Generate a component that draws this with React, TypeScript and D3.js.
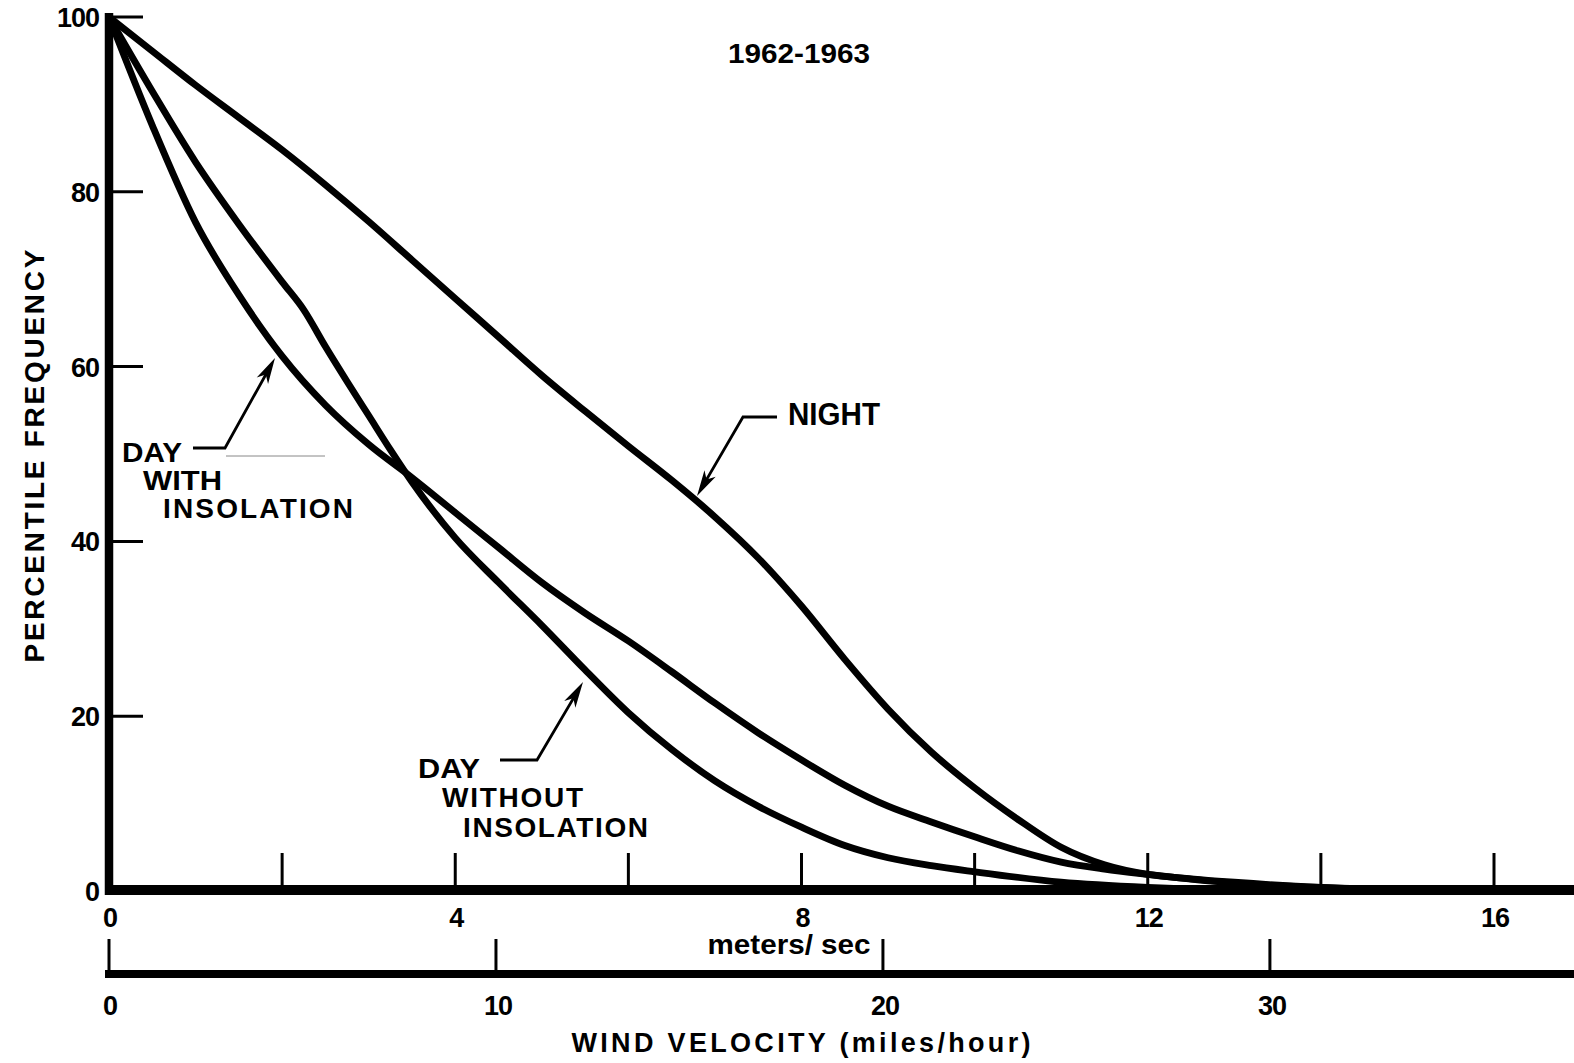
import React from "react";
import * as d3 from "d3";

// ---- data ----
const nightSpeed = [0, 0.5, 1, 1.5, 2, 2.5, 3, 3.5, 4, 4.5, 5, 5.5, 6, 6.5, 7, 7.5, 8, 8.5, 9, 9.5, 10, 10.5, 11, 11.5, 12, 12.5, 13, 14, 15, 16.9];
const nightFreq = [100, 96.1, 92.2, 88.5, 84.8, 80.8, 76.6, 72.2, 67.8, 63.4, 59.0, 54.9, 50.9, 47.0, 42.8, 38.1, 32.6, 26.5, 20.8, 15.9, 11.8, 8.2, 5.0, 3.0, 1.9, 1.4, 1.0, 0.4, 0.1, 0];

const withInsSpeed = [0, 0.5, 1, 1.5, 2, 2.5, 3, 3.5, 4, 4.5, 5, 5.5, 6, 6.5, 7, 7.5, 8, 8.5, 9, 9.5, 10, 10.5, 11, 11.5, 12, 13, 14, 15, 16.9];
const withInsFreq = [100, 87.6, 76.5, 68.2, 61.2, 55.6, 51.1, 47.3, 43.3, 39.3, 35.3, 31.8, 28.6, 25.1, 21.5, 18.1, 15.0, 12.1, 9.7, 7.9, 6.2, 4.6, 3.3, 2.5, 1.9, 0.9, 0.4, 0.15, 0];

const withoutInsSpeed = [0, 0.5, 1, 1.5, 2, 2.25, 2.5, 2.75, 3, 3.25, 3.5, 4, 4.5, 5, 5.5, 6, 6.5, 7, 7.5, 8, 8.5, 9, 9.5, 10, 11, 12, 13, 16.9];
const withoutInsFreq = [100, 91.5, 83.4, 76.3, 69.7, 66.5, 62.3, 58.3, 54.4, 50.5, 46.8, 40.4, 35.3, 30.4, 25.3, 20.4, 16.2, 12.6, 9.7, 7.3, 5.2, 3.8, 2.9, 2.2, 1.0, 0.4, 0.1, 0];

const yTicks = [0, 20, 40, 60, 80, 100];
const msTicks = [2, 4, 6, 8, 10, 12, 14, 16];
const msLabels = [0, 4, 8, 12, 16];
const mphTicks = [0, 10, 20, 30];

const title = "1962-1963";
const yTitle = "PERCENTILE FREQUENCY";
const msTitle = "meters/ sec";
const mphTitle = "WIND VELOCITY (miles/hour)";

const MPH_TO_MS = 0.44704;

const FONT = "'Liberation Sans', Arial, Helvetica, sans-serif";

function zip(a: number[], b: number[]): [number, number][] {
  return a.map((v, i) => [v, b[i]]);
}

function Arrow({ pts }: { pts: [number, number][] }) {
  const [bx, by] = pts[pts.length - 2];
  const [tx, ty] = pts[pts.length - 1];
  const dx = tx - bx, dy = ty - by;
  const len = Math.hypot(dx, dy);
  const ux = dx / len, uy = dy / len;
  const L = 26, Wd = 6.5;
  const baseX = tx - ux * L, baseY = ty - uy * L;
  const px = -uy, py = ux;
  const head = `${tx},${ty} ${baseX + px * Wd},${baseY + py * Wd} ${baseX + ux * 7},${baseY + uy * 7} ${baseX - px * Wd},${baseY - py * Wd}`;
  const linePts = pts.slice(0, -1).concat([[tx - ux * 12, ty - uy * 12]]);
  return (
    <g>
      <polyline points={linePts.map(p => p.join(",")).join(" ")} fill="none" stroke="#000" strokeWidth={2.8} />
      <polygon points={head} fill="#000" />
    </g>
  );
}

export default function App() {
  const W = 1574, H = 1063;
  const x = d3.scaleLinear().domain([0, 16]).range([109, 1494]);
  const y = d3.scaleLinear().domain([0, 100]).range([891, 17]);
  const xMph = d3.scaleLinear().domain([0, 16 / MPH_TO_MS]).range([109, 1494]);

  const line = d3
    .line<[number, number]>()
    .x(d => x(d[0]))
    .y(d => y(d[1]))
    .curve(d3.curveMonotoneX);

  const series = [
    zip(nightSpeed, nightFreq),
    zip(withInsSpeed, withInsFreq),
    zip(withoutInsSpeed, withoutInsFreq),
  ];

  const axisY = 890;
  const axis2Y = 974;

  return (
    <svg
      width={W}
      height={H}
      viewBox={`0 0 ${W} ${H}`}
      style={{ position: "absolute", left: 0, top: 0, background: "#fff" }}
      fontFamily={FONT}
    >
      <rect x={0} y={0} width={W} height={H} fill="#fff" />

      {/* curves */}
      {series.map((s, i) => (
        <path key={i} d={line(s) || ""} fill="none" stroke="#000" strokeWidth={6.8} strokeLinejoin="round" strokeLinecap="round" />
      ))}

      {/* y axis */}
      <line x1={109} x2={109} y1={13} y2={axisY + 5} stroke="#000" strokeWidth={8.5} />
      {yTicks.filter(t => t > 0).map(t => (
        <line key={t} x1={109} x2={143} y1={y(t)} y2={y(t)} stroke="#000" strokeWidth={3} />
      ))}
      {yTicks.map(t => (
        <text key={t} x={99} y={y(t) + 10} textAnchor="end" fontSize={27} fontWeight="bold" letterSpacing={-1}>
          {t}
        </text>
      ))}
      <text
        transform={`translate(44,456) rotate(-90)`}
        textAnchor="middle"
        fontSize={28}
        fontWeight="bold"
        textLength={413}
        lengthAdjust="spacing"
      >
        {yTitle}
      </text>

      {/* primary x axis (m/s) */}
      <line x1={105} x2={W} y1={axisY} y2={axisY} stroke="#000" strokeWidth={10} />
      {msTicks.map(t => (
        <line key={t} x1={x(t)} x2={x(t)} y1={axisY} y2={853} stroke="#000" strokeWidth={3} />
      ))}
      {msLabels.map(t => (
        <text key={t} x={x(t) + 1} y={927} textAnchor="middle" fontSize={27} fontWeight="bold" letterSpacing={-1}>
          {t}
        </text>
      ))}
      <text x={789} y={954} textAnchor="middle" fontSize={27} fontWeight="bold" textLength={163} lengthAdjust="spacingAndGlyphs">
        {msTitle}
      </text>

      {/* secondary x axis (mph) */}
      <line x1={105} x2={W} y1={axis2Y} y2={axis2Y} stroke="#000" strokeWidth={8} />
      {mphTicks.map(t => (
        <line key={t} x1={xMph(t)} x2={xMph(t)} y1={axis2Y} y2={939} stroke="#000" strokeWidth={3} />
      ))}
      {mphTicks.map(t => (
        <text key={t} x={xMph(t) + (t === 0 ? 1 : 2)} y={1015} textAnchor="middle" fontSize={27} fontWeight="bold" letterSpacing={-1}>
          {t}
        </text>
      ))}
      <text x={801} y={1052} textAnchor="middle" fontSize={27} fontWeight="bold" textLength={459} lengthAdjust="spacing">
        {mphTitle}
      </text>

      {/* title */}
      <text x={799} y={63} textAnchor="middle" fontSize={27} fontWeight="bold" textLength={142} lengthAdjust="spacingAndGlyphs">
        {title}
      </text>

      {/* NIGHT label */}
      <text x={788} y={425} fontSize={31} fontWeight="bold" textLength={92} lengthAdjust="spacingAndGlyphs">
        NIGHT
      </text>
      <Arrow pts={[[777, 417], [743, 417], [697, 496]]} />

      {/* DAY WITH INSOLATION */}
      <text x={122} y={462} fontSize={28} fontWeight="bold" textLength={60} lengthAdjust="spacingAndGlyphs">DAY</text>
      <text x={143} y={490} fontSize={28} fontWeight="bold" textLength={79} lengthAdjust="spacingAndGlyphs">WITH</text>
      <text x={163} y={518} fontSize={28} fontWeight="bold" textLength={190} lengthAdjust="spacing">INSOLATION</text>
      <Arrow pts={[[193, 448], [225, 448], [275, 358]]} />
      <line x1={226} x2={325} y1={456} y2={456} stroke="#888" strokeWidth={1} />

      {/* DAY WITHOUT INSOLATION */}
      <text x={418} y={778} fontSize={28} fontWeight="bold" textLength={62} lengthAdjust="spacingAndGlyphs">DAY</text>
      <text x={442} y={807} fontSize={28} fontWeight="bold" textLength={141} lengthAdjust="spacing">WITHOUT</text>
      <text x={463} y={837} fontSize={28} fontWeight="bold" textLength={185} lengthAdjust="spacing">INSOLATION</text>
      <Arrow pts={[[500, 760], [537, 760], [583, 682]]} />
    </svg>
  );
}
